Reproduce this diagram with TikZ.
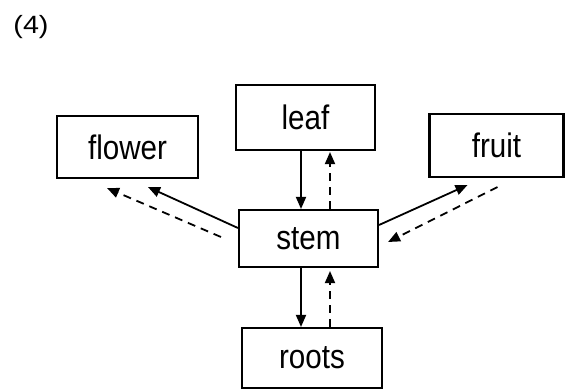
\documentclass[tikz,border=0pt]{standalone}
\usepackage{fontspec}
\setmainfont{Liberation Sans}
\newfontfamily\boxfont[FakeStretch=0.87]{Liberation Sans}
\newfontfamily\numfont[FakeStretch=1.15]{Liberation Sans}
\usetikzlibrary{arrows.meta}
\begin{document}
\begin{tikzpicture}[x=1pt,y=-1pt,
  part/.style={draw, line width=2.1pt, inner sep=0pt, font=\boxfont\fontsize{34}{40}\selectfont},
  flowline/.style={line width=1.8pt, -{Triangle[length=12pt,width=10pt]}},
  backline/.style={flowline, dash pattern=on 8pt off 6pt}]
  \useasboundingbox (0,0) rectangle (565,390);

  \node[font=\numfont\fontsize{25}{30}\selectfont] (label) at (31,27) {(4)};

  \node[part, minimum width=141pt, minimum height=62pt] (flower) at (127.5,147) {flower};
  \node[part, minimum width=139pt, minimum height=65pt] (leaf)   at (305.5,117.5) {leaf};
  \node[part, minimum width=134pt, minimum height=63pt] (fruit)  at (496.5,145.5) {fruit};
  \node[part, minimum width=139pt, minimum height=57pt] (stem)   at (308.5,238.5) {stem};
  \node[part, minimum width=140pt, minimum height=60pt] (roots)  at (312,358) {roots};

  % leaf <-> stem
  \draw[flowline] ([xshift=-4.5pt]leaf.south) -- ([xshift=-4.5pt]leaf.south |- stem.north);
  \draw[backline, shorten >=1pt] ([xshift=21.5pt]stem.north) -- ([xshift=21.5pt]stem.north |- leaf.south);

  % stem <-> roots
  \draw[flowline] ([xshift=-7.5pt]stem.south) -- ([xshift=-7.5pt]stem.south |- roots.north);
  \draw[backline, shorten >=3pt] ([xshift=18pt]roots.north) -- ([xshift=18pt]roots.north |- stem.south);

  % stem -> flower
  \draw[flowline] ([yshift=10.5pt]stem.west) -- ([xshift=20.5pt,yshift=-8pt]flower.south);
  \draw[backline] ([xshift=-17pt,yshift=1.5pt]stem.west) -- ([xshift=-20.5pt,yshift=-9pt]flower.south);

  % stem <-> fruit
  \draw[flowline] ([yshift=13.5pt]stem.east) -- ([xshift=-29pt,yshift=-7pt]fruit.south);
  \draw[backline] ([xshift=1pt,yshift=-9pt]fruit.south) -- ([xshift=9pt,yshift=-3.5pt]stem.east);
\end{tikzpicture}
\end{document}
